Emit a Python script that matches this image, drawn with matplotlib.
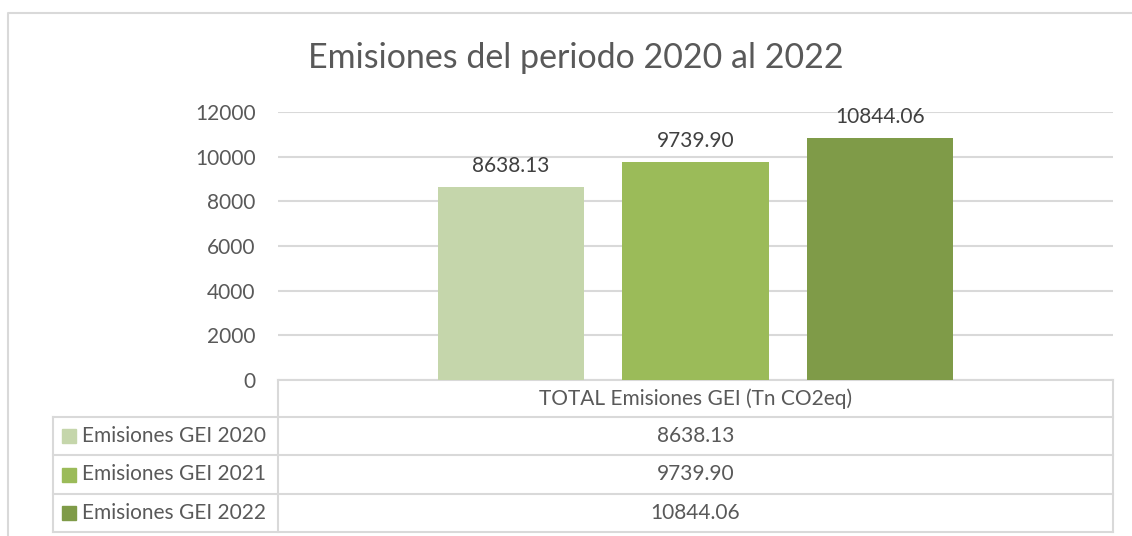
import matplotlib.pyplot as plt
from matplotlib.patches import Rectangle

plt.rcParams['font.family'] = ['Lato', 'DejaVu Sans']

series = ['Emisiones GEI 2020', 'Emisiones GEI 2021', 'Emisiones GEI 2022']
values = [8638.13, 9739.90, 10844.06]
labels = ['8638.13', '9739.90', '10844.06']
category = 'TOTAL Emisiones GEI (Tn CO2eq)'
colors = ['#c5d6ab', '#9bbb59', '#7f9b48']
yticks = [0, 2000, 4000, 6000, 8000, 10000, 12000]

W, H = 1132, 536
txt = '#595959'
grid = '#d9d9d9'
fs = 15

fig = plt.figure(figsize=(W / 100, H / 100), dpi=100)

# overlay in pixel coords for frame and table
ov = fig.add_axes([0, 0, 1, 1])
ov.set_xlim(0, W)
ov.set_ylim(H, 0)
ov.axis('off')
ov.plot([8, 8, W + 5], [H + 5, 13, 13], color=grid, lw=1.5)

# plot area
L, R, T, B = 278, 1113, 112, 380
ax = fig.add_axes([L / W, 1 - B / H, (R - L) / W, (B - T) / H])
ax.set_ylim(0, 12000)
ax.set_xlim(0, 1)
pos = [0.279, 0.5, 0.721]
bars = ax.bar(pos, values, width=0.175, color=colors, zorder=3)
for b, lab in zip(bars, labels):
    ax.text(b.get_x() + b.get_width() / 2, b.get_height() + 500, lab,
            ha='center', va='bottom', fontsize=15, color='#404040')
ax.set_yticks(yticks)
ax.set_yticklabels([str(t) for t in yticks], fontsize=fs, color=txt)
ax.tick_params(axis='y', length=0, pad=16)
ax.set_xticks([])
ax.grid(axis='y', color=grid, lw=1.5, zorder=0)
for s in ax.spines.values():
    s.set_visible(False)
ax.set_facecolor('none')

fig.text(576 / W, 1 - 58 / H, 'Emisiones del periodo 2020 al 2022',
         ha='center', va='center', fontsize=24.5, color=txt)

# data table
rows = [380, 417, 455, 494, 532]
xl, xm, xr = 53, 278, 1113
ov.plot([xm, xr], [rows[0], rows[0]], color=grid, lw=1.5)
for y in rows[1:]:
    ov.plot([xl, xr], [y, y], color=grid, lw=1.5)
ov.plot([xm, xm], [rows[0], rows[-1]], color=grid, lw=1.5)
ov.plot([xr, xr], [rows[0], rows[-1]], color=grid, lw=1.5)
ov.plot([xl, xl], [rows[1], rows[-1]], color=grid, lw=1.5)
cx = (xm + xr) / 2
ov.text(cx, (rows[0] + rows[1]) / 2, category, ha='center', va='center',
        fontsize=fs, color=txt)
for i, (name, lab, c) in enumerate(zip(series, labels, colors)):
    yc = (rows[i + 1] + rows[i + 2]) / 2
    ov.add_patch(Rectangle((62, yc - 7), 14, 14, color=c))
    ov.text(82, yc, name, ha='left', va='center', fontsize=fs, color=txt)
    ov.text(cx, yc, lab, ha='center', va='center', fontsize=fs, color=txt)

fig.savefig('out.png', dpi=100)
